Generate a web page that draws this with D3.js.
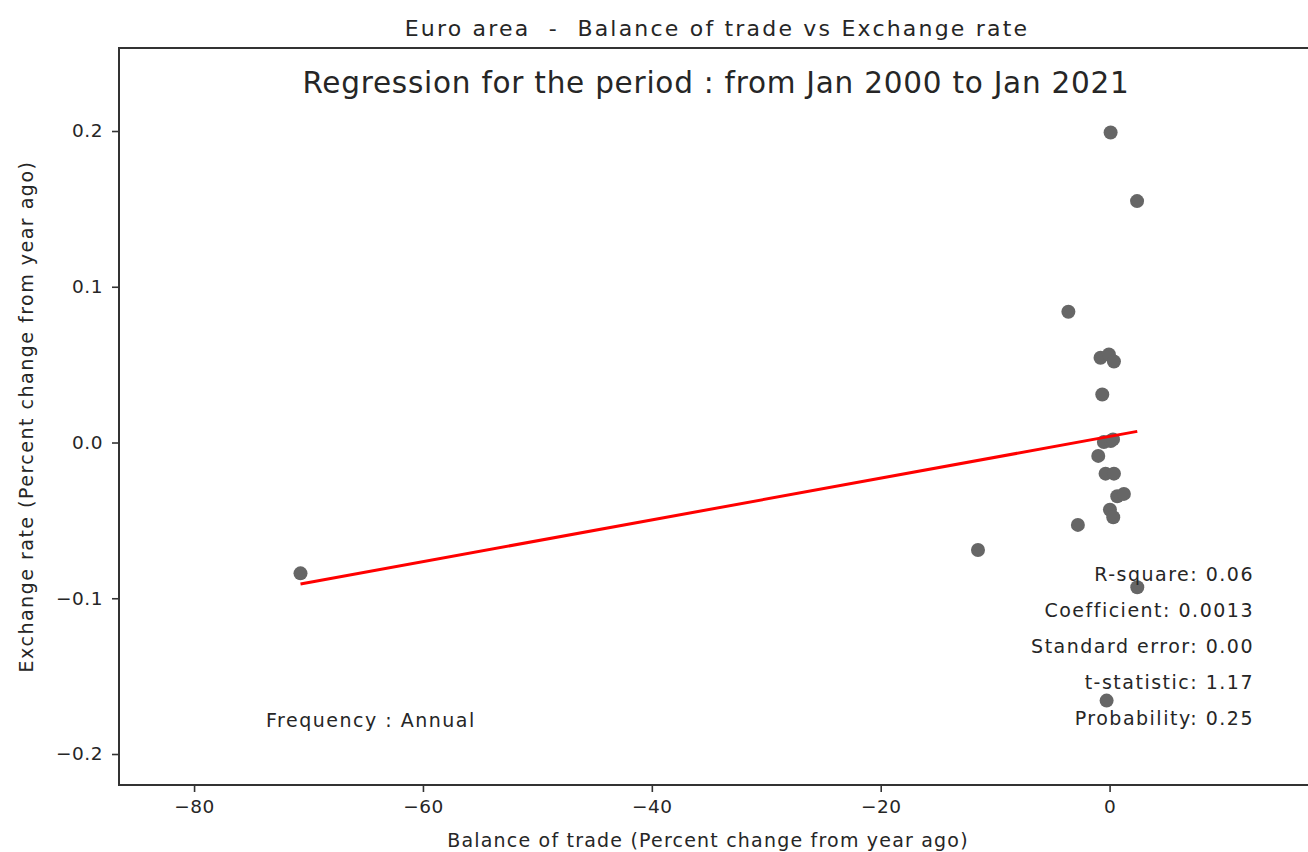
<!DOCTYPE html>
<html>
<head>
<meta charset="utf-8">
<script src="https://cdn.jsdelivr.net/npm/d3@7"></script>
<style>
  html, body { margin: 0; padding: 0; background: #fff; }
  svg { display: block; font-family: "DejaVu Sans", sans-serif; }
</style>
</head>
<body>
<svg id="chart" width="1308" height="852"></svg>
<script>
// Annual observations, Jan 2000 – Jan 2021 (percent change from a year ago)
const balanceOfTrade = [
  -70.7, -11.5, -3.6, 0.09, 2.4,
  -0.79, -0.06, 0.38, -0.64,
  -0.5, 0.1, 0.3, -0.99,
  -0.35, 0.38, 0.67, 1.25,
  0.03, 0.32, -2.77, 2.42, -0.26
];
const exchangeRate = [
  -0.084, -0.069, 0.084, 0.199, 0.155,
  0.0544, 0.0565, 0.052, 0.0308,
  0.0003, 0.001, 0.002, -0.0086,
  -0.020, -0.020, -0.0345, -0.033,
  -0.0432, -0.048, -0.0529, -0.0929, -0.1657
];

// OLS fit and its summary statistics
const fitIntercept = 0.0039;
const fitSlope = 0.00134;
const statLabels = ["R-square", "Coefficient", "Standard error", "t-statistic", "Probability"];
const statValues = ["0.06", fitSlope.toFixed(4), "0.00", "1.17", "0.25"];

const xTicks = [-80, -60, -40, -20, 0];
const yTicks = [-0.2, -0.1, 0.0, 0.1, 0.2];

const svg = d3.select("#chart");
const plotLeft = 119, plotRight = 1311, plotTop = 48, plotBottom = 785;

const x = d3.scaleLinear().domain([-86.56, 17.6]).range([plotLeft, plotRight]);
const y = d3.scaleLinear().domain([-0.2199, 0.2533]).range([plotBottom, plotTop]);

const minus = s => s.replace("-", "\u2212");
const ink = "#262626";

// Headings
svg.append("text")
  .attr("x", 717).attr("y", 36)
  .attr("text-anchor", "middle")
  .attr("font-size", 22).attr("letter-spacing", 2.2).attr("fill", ink)
  .attr("xml:space", "preserve")
  .text("Euro area  -  Balance of trade vs Exchange rate");

svg.append("text")
  .attr("x", 716).attr("y", 93)
  .attr("text-anchor", "middle")
  .attr("font-size", 29.5).attr("letter-spacing", 0.75).attr("fill", ink)
  .text("Regression for the period : from Jan 2000 to Jan 2021");

// Axes
const xAxis = d3.axisBottom(x).tickValues(xTicks).tickSize(7).tickPadding(8)
  .tickFormat(d => minus(d3.format("d")(d)));
const yAxis = d3.axisLeft(y).tickValues(yTicks).tickSize(7).tickPadding(9)
  .tickFormat(d => minus(d3.format(".1f")(d)));

const gx = svg.append("g").attr("transform", `translate(0,${plotBottom})`).call(xAxis);
const gy = svg.append("g").attr("transform", `translate(${plotLeft},0)`).call(yAxis);
[gx, gy].forEach(g => {
  g.select(".domain").remove();
  g.selectAll(".tick line").attr("stroke", "#333").attr("stroke-width", 1.6);
  g.selectAll(".tick text").attr("font-size", 18.5).attr("letter-spacing", 0.5)
    .attr("fill", ink).attr("font-family", "DejaVu Sans, sans-serif");
});

// Axis frame
svg.append("rect")
  .attr("x", plotLeft).attr("y", plotTop)
  .attr("width", plotRight - plotLeft).attr("height", plotBottom - plotTop)
  .attr("fill", "none").attr("stroke", "#333").attr("stroke-width", 2);

// Axis titles
svg.append("text")
  .attr("x", 708).attr("y", 847)
  .attr("text-anchor", "middle")
  .attr("font-size", 19).attr("letter-spacing", 1.2).attr("fill", ink)
  .text("Balance of trade (Percent change from year ago)");

svg.append("text")
  .attr("transform", `translate(33,${(plotTop + plotBottom) / 2}) rotate(-90)`)
  .attr("text-anchor", "middle")
  .attr("font-size", 19).attr("letter-spacing", 1.5).attr("fill", ink)
  .text("Exchange rate (Percent change from year ago)");

// Scatter points
const pts = balanceOfTrade.map((b, i) => ({ b, e: exchangeRate[i] }));
svg.append("g").selectAll("circle").data(pts).join("circle")
  .attr("cx", d => x(d.b)).attr("cy", d => y(d.e)).attr("r", 7)
  .attr("fill", "#666");

// Regression line over the observed range
const [bMin, bMax] = d3.extent(balanceOfTrade);
svg.append("line")
  .attr("x1", x(bMin)).attr("y1", y(fitIntercept + fitSlope * bMin))
  .attr("x2", x(bMax)).attr("y2", y(fitIntercept + fitSlope * bMax))
  .attr("stroke", "red").attr("stroke-width", 3);

// Statistics block
svg.append("g").selectAll("text").data(statLabels).join("text")
  .attr("x", 1254).attr("y", (d, i) => 581 + i * 36)
  .attr("text-anchor", "end")
  .attr("font-size", 19).attr("letter-spacing", 1.5).attr("fill", ink)
  .text((d, i) => `${d}: ${statValues[i]}`);

svg.append("text")
  .attr("x", 266).attr("y", 727)
  .attr("font-size", 19).attr("letter-spacing", 1.5).attr("fill", ink)
  .text("Frequency : Annual");
</script>
</body>
</html>
